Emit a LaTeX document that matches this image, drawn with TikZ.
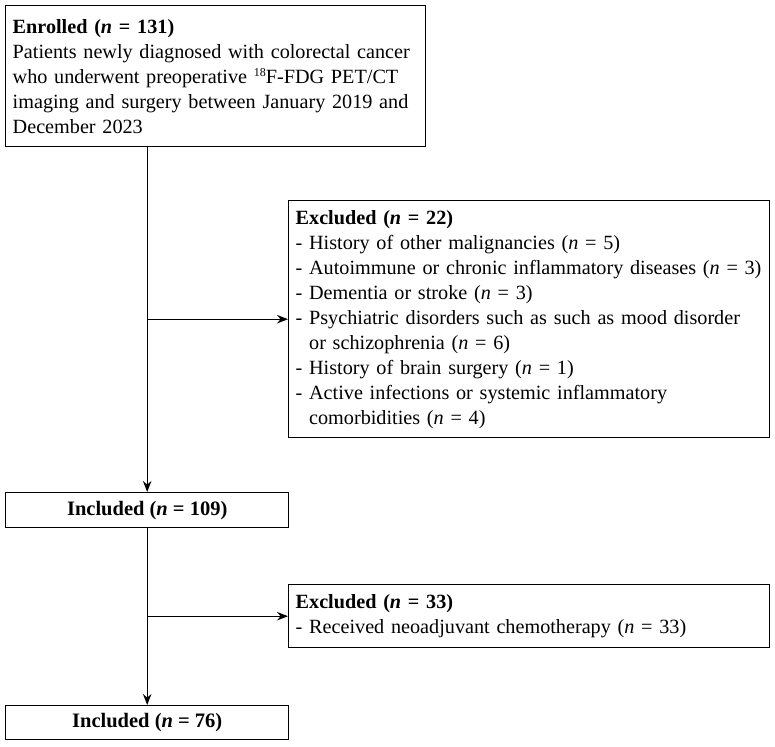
\documentclass[tikz,border=0pt]{standalone}
\usepackage{fontspec}
\setmainfont{Liberation Serif}
\usetikzlibrary{positioning,arrows.meta}
\newcommand{\nn}{\textit{n}}
\tikzset{
  flowbox/.style={draw=black, line width=1.4pt, anchor=north west, align=left, inner xsep=7pt, inner ysep=3pt, font=\fontsize{20.2}{25}\selectfont},
  countbox/.style={draw=black, line width=1.4pt, anchor=north west, align=center, inner sep=2pt, minimum width=283pt, font=\fontsize{20.5}{25}\selectfont\bfseries},
  flowarrow/.style={-{Stealth[length=11pt,width=8.5pt]}, line width=1.4pt}
}

\begin{document}
\begin{tikzpicture}[x=1pt, y=-1pt]
  \useasboundingbox (0,0) rectangle (775,746);
  \node[flowbox, text width=406pt, minimum height=141pt] (enrolled) at (5,5) {\textbf{Enrolled (\nn{} = 131)}\\Patients newly diagnosed with colorectal cancer\\who underwent preoperative {\fontsize{12}{12}\selectfont\raisebox{6.5pt}{18}}F-FDG PET/CT\\imaging and surgery between January 2019 and\\December 2023};
  \node[flowbox, text width=467pt, minimum height=237pt] (excluded1) at (288,200) {\textbf{Excluded (\nn{} = 22)}\\- History of other malignancies (\nn{} = 5)\\\mbox{- Autoimmune or chronic inflammatory diseases (\nn{} = 3)}\\- Dementia or stroke (\nn{} = 3)\\- Psychiatric disorders such as such as mood disorder\\\hphantom{-~}or schizophrenia (\nn{} = 6)\\- History of brain surgery (\nn{} = 1)\\- Active infections or systemic inflammatory\\\hphantom{-~}comorbidities (\nn{} = 4)};
  \node[countbox, minimum height=35pt] (included1) at (5,492) {Included (\nn{} = 109)};
  \node[flowbox, text width=467pt, minimum height=63pt] (excluded2) at (288,584) {\textbf{Excluded (\nn{} = 33)}\\- Received neoadjuvant chemotherapy (\nn{} = 33)};
  \node[countbox, minimum height=34pt] (included2) at (5,705) {Included (\nn{} = 76)};
  % branch points on the main line
  \coordinate (split1) at (included1.north |- excluded1.west);
  \coordinate (split2) at (included1.south |- excluded2.west);
  \draw[flowarrow] (included1.north |- enrolled.south) -- (included1.north);
  \draw[flowarrow] (split1) -- (excluded1.west);
  \draw[flowarrow] (included1.south) -- (included2.north);
  \draw[flowarrow] (split2) -- (excluded2.west);
\end{tikzpicture}
\end{document}
